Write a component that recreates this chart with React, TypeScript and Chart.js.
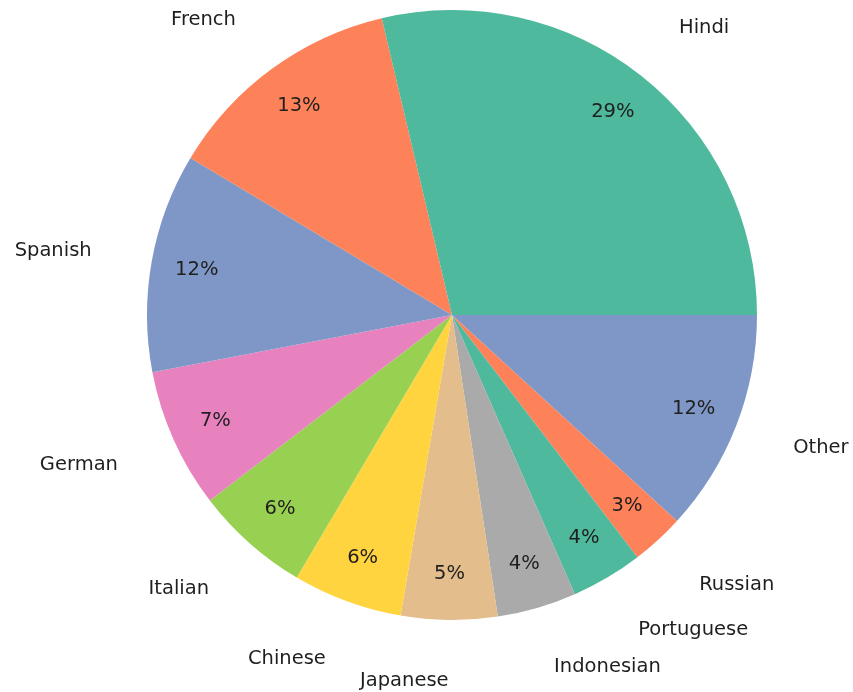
import React, { useEffect, useRef } from 'react';
import { Chart, registerables } from 'chart.js';

Chart.register(...registerables);

// Slices listed counter-clockwise starting at 3 o'clock (matplotlib order)
const languages = ['Hindi', 'French', 'Spanish', 'German', 'Italian', 'Chinese', 'Japanese', 'Indonesian', 'Portuguese', 'Russian', 'Other'];
const shares = [28.7, 12.7, 11.6, 7.4, 6.1, 5.8, 5.1, 4.2, 3.8, 2.8, 11.8];
const sliceColors = ['#4eb99d', '#fd8159', '#7f97c6', '#e882bf', '#98d152', '#ffd43e', '#e3bd8c', '#aaaaaa', '#4eb99d', '#fd8159', '#7f97c6'];

export default function App() {
  const ref = useRef<HTMLCanvasElement>(null);

  useEffect(() => {
    if (!ref.current) return;
    // Chart.js draws clockwise, so reverse to get counter-clockwise order
    const labels = [...languages].reverse();
    const data = [...shares].reverse();
    const colors = [...sliceColors].reverse();
    const total = shares.reduce((a, b) => a + b, 0);

    const labelPlugin = {
      id: 'pieLabels',
      afterDatasetsDraw(chart: any) {
        const ctx = chart.ctx;
        const meta = chart.getDatasetMeta(0);
        ctx.save();
        ctx.font = '19.5px "DejaVu Sans"';
        ctx.fillStyle = '#1f1f1f';
        ctx.textBaseline = 'middle';
        meta.data.forEach((arc: any, i: number) => {
          const { startAngle, endAngle, x, y, outerRadius } = arc.getProps(['startAngle', 'endAngle', 'x', 'y', 'outerRadius'], true);
          const mid = (startAngle + endAngle) / 2;
          const c = Math.cos(mid);
          const s = Math.sin(mid);
          ctx.textAlign = 'center';
          ctx.fillText(Math.round((data[i] / total) * 100) + '%', x + c * outerRadius * 0.85, y + s * outerRadius * 0.85);
          ctx.textAlign = c > 0 ? 'left' : 'right';
          ctx.fillText(labels[i], x + c * outerRadius * 1.2, y + s * outerRadius * 1.2);
        });
        ctx.restore();
      },
    };

    const chart = new Chart(ref.current, {
      type: 'pie',
      data: {
        labels,
        datasets: [
          {
            data,
            backgroundColor: colors,
            borderWidth: 0,
            hoverOffset: 0,
          },
        ],
      },
      options: {
        responsive: false,
        animation: false,
        rotation: 90,
        radius: 305,
        layout: { padding: { left: 51, right: 0, top: 0, bottom: 62 } },
        plugins: {
          legend: { display: false },
          tooltip: { enabled: false },
        },
      },
      plugins: [labelPlugin],
    });
    return () => chart.destroy();
  }, []);

  return (
    <div style={{ position: 'absolute', left: 0, top: 0, width: 853, height: 692, background: '#ffffff' }}>
      <canvas ref={ref} width={853} height={692} style={{ display: 'block' }} />
    </div>
  );
}
